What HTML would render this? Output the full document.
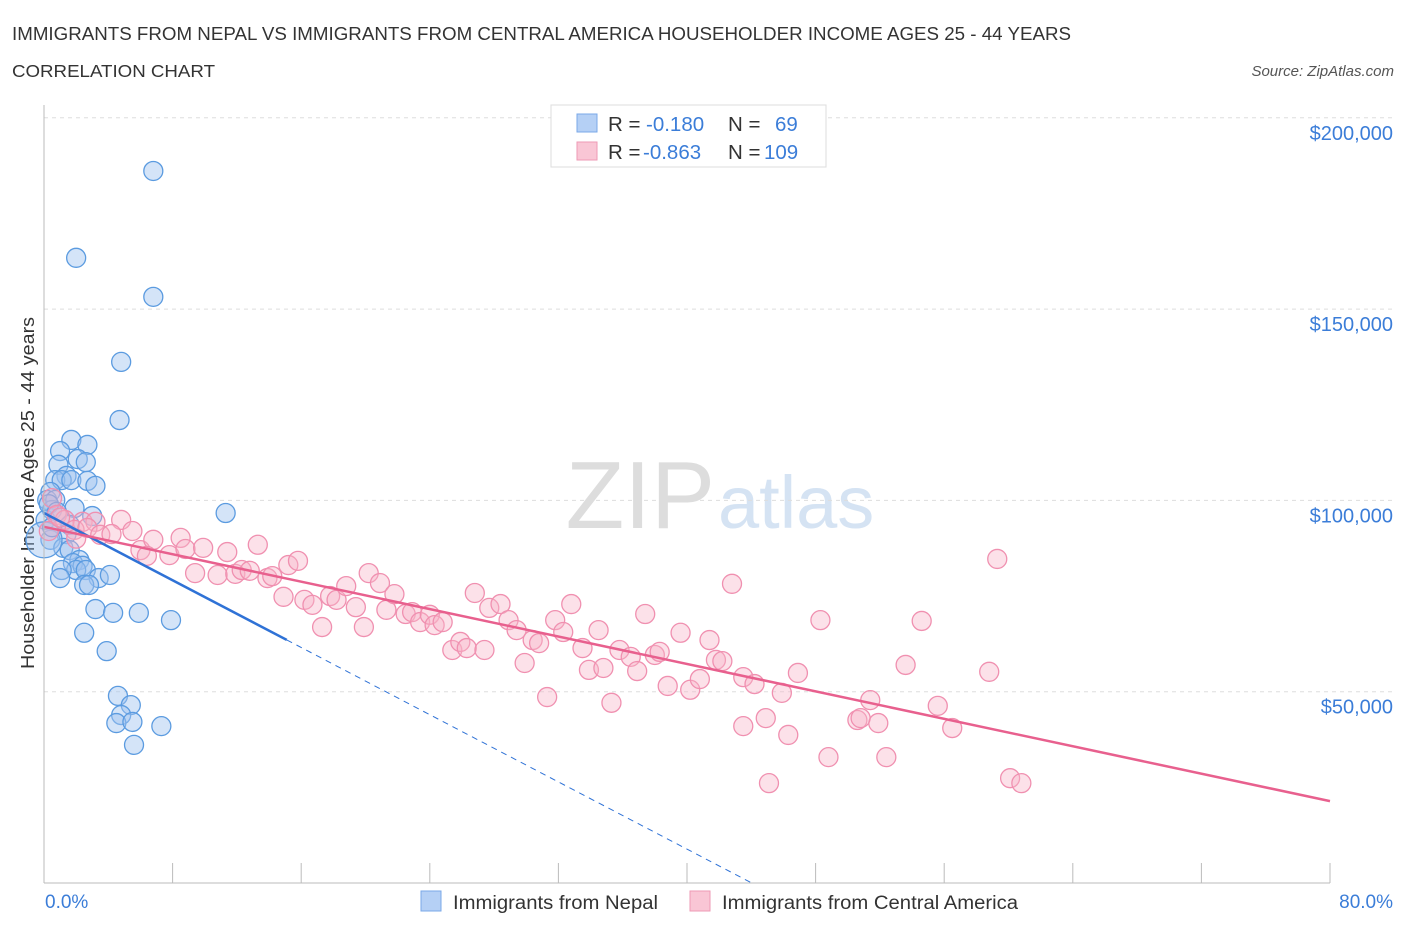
<!DOCTYPE html>
<html><head><meta charset="utf-8"><style>
body{margin:0;background:#fff;font-family:"Liberation Sans",sans-serif}
svg text{font-family:"Liberation Sans",sans-serif}
</style></head><body>
<svg width="1406" height="930" id="c">
<text x="12" y="40" font-size="18" textLength="1059" lengthAdjust="spacingAndGlyphs" fill="#333">IMMIGRANTS FROM NEPAL VS IMMIGRANTS FROM CENTRAL AMERICA HOUSEHOLDER INCOME AGES 25 - 44 YEARS</text>
<text x="12" y="77" font-size="17.5" textLength="203" lengthAdjust="spacingAndGlyphs" fill="#333">CORRELATION CHART</text>
<text x="1394" y="76" font-size="15" fill="#555" font-style="italic" text-anchor="end">Source: ZipAtlas.com</text>
<text transform="translate(34,493) rotate(-90)" font-size="18" textLength="352" lengthAdjust="spacingAndGlyphs" fill="#333" text-anchor="middle">Householder Income Ages 25 - 44 years</text>
<text x="715" y="528" font-size="96" fill="#ddd" text-anchor="end" font-family="Liberation Serif">ZIP</text>
<text x="718" y="528" font-size="74" fill="#d5e3f3">atlas</text>
<g id="grid"></g><g id="pts"></g><g id="lines"></g>
<line x1="44" y1="105" x2="44" y2="883" stroke="#bbb"/>
<line x1="44" y1="883" x2="1330" y2="883" stroke="#bbb"/>
<text x="45" y="908" font-size="19" fill="#3b7dd8">0.0%</text>
<text x="1393" y="908" font-size="19" fill="#3b7dd8" text-anchor="end">80.0%</text>
<g>
<rect x="551" y="105" width="275" height="62" fill="#fff" stroke="#ddd"/>
<rect x="577" y="114" width="20" height="18" fill="#b5d0f5" stroke="#7aa8e8"/>
<rect x="577" y="142" width="20" height="18" fill="#f9c6d5" stroke="#ee9ab5"/>
<text x="608" y="131" font-size="20.5" fill="#333">R = <tspan x="646" fill="#3b7dd8">-0.180</tspan><tspan x="728">N = </tspan><tspan x="775" fill="#3b7dd8">69</tspan></text>
<text x="608" y="159" font-size="20.5" fill="#333">R = <tspan x="643" fill="#3b7dd8">-0.863</tspan><tspan x="728">N = </tspan><tspan x="764" fill="#3b7dd8">109</tspan></text>
</g>
<g>
<rect x="421" y="891" width="20" height="20" fill="#b5d0f5" stroke="#7aa8e8"/>
<text x="453" y="909" font-size="19" textLength="205" lengthAdjust="spacingAndGlyphs" fill="#333">Immigrants from Nepal</text>
<rect x="690" y="891" width="20" height="20" fill="#f9c6d5" stroke="#ee9ab5"/>
<text x="722" y="909" font-size="19" textLength="296" lengthAdjust="spacingAndGlyphs" fill="#333">Immigrants from Central America</text>
</g>
</svg>
<script>
const yTicks=[50000,100000,150000,200000];
const yTickLabels=["$50,000","$100,000","$150,000","$200,000"];
const xTicks=[0,8,16,24,32,40,48,56,64,72,80];
const nepalX=[6.8,2.0,6.8,4.8,4.7,1.7,2.7,1.0,2.1,2.6,0.9,1.4,0.7,1.1,1.7,2.7,3.2,0.4,0.2,0.7,0.5,1.9,11.3,3.0,0.1,1.6,1.4,0.4,1.2,1.6,2.2,1.8,2.4,2.0,1.1,2.6,1.0,3.4,4.1,2.5,2.8,3.2,4.3,5.9,7.9,2.5,3.9,4.6,5.4,4.8,4.5,5.5,7.3,5.6,0.0,0.3,0.8,0.5];
const nepalY=[186.1,163.4,153.2,136.2,121.0,115.8,114.5,112.9,110.8,110.0,109.3,106.4,105.3,105.3,105.3,105.1,103.8,102.2,100.1,100.1,97.5,98.0,96.7,95.9,94.9,93.6,91.2,89.7,87.6,87.0,84.4,83.6,82.9,81.8,81.8,81.8,79.7,79.7,80.5,77.9,77.9,71.6,70.6,70.6,68.7,65.4,60.6,48.9,46.5,43.9,41.8,42.1,41.0,36.1,89.7,99.0,97.0,93.0];
const caX=[0.5,0.8,1.3,2.4,3.2,4.8,1.9,2.7,3.5,4.2,6.0,6.8,8.5,6.4,7.8,8.8,9.9,11.4,13.3,9.4,10.8,11.9,12.3,12.8,13.9,14.2,15.2,15.8,14.9,16.2,16.7,17.3,17.8,18.2,18.8,19.4,19.9,20.2,20.9,21.3,21.8,22.5,22.9,23.4,24.0,24.3,24.8,25.4,25.9,26.3,26.8,27.4,27.7,28.4,28.9,29.4,29.9,30.4,30.8,31.3,31.8,32.3,32.8,33.5,33.9,34.5,34.8,35.3,35.8,36.5,36.9,37.4,38.0,38.3,38.8,39.6,40.2,40.8,41.4,41.8,42.2,42.8,43.5,44.2,43.5,44.9,45.9,46.3,45.1,46.9,48.3,48.8,50.6,51.4,51.9,52.4,53.6,54.6,55.6,56.5,58.8,59.3,60.1,60.8,50.8,0.3,1.0,2.0,5.5];
const caY=[100.6,96.2,94.9,94.4,94.4,94.9,92.3,92.8,91.0,91.2,87.0,89.7,90.2,85.5,85.7,87.3,87.6,86.5,88.4,81.0,80.5,80.8,81.8,81.6,79.7,80.2,83.1,84.2,74.8,74.0,72.7,66.9,75.0,74.0,77.6,72.1,66.9,81.0,78.4,71.4,75.5,70.3,70.8,68.2,70.1,67.4,68.2,60.9,63.0,61.4,75.8,60.9,71.9,72.9,68.7,66.1,57.5,63.5,62.7,48.6,68.7,65.6,72.9,61.4,55.7,66.1,56.2,47.1,60.9,59.1,55.4,70.3,59.6,60.4,51.5,65.4,50.5,53.3,63.5,58.3,58.0,78.2,53.8,52.0,41.0,43.1,49.7,38.7,26.1,54.9,68.7,32.9,42.6,47.8,41.8,32.9,57.0,68.5,46.3,40.5,55.2,84.7,27.4,26.1,43.1,92.0,95.5,90.0,92.0];
const nepalTrend=[96.7,-79.0];
const caTrend=[93.1,21.4];
const NS="http://www.w3.org/2000/svg";
const X=p=>44+p/80*1286;
const Y=v=>883-v/50000*191.3;
function mk(t,a,parent){const e=document.createElementNS(NS,t);for(const k in a)e.setAttribute(k,a[k]);document.getElementById(parent).appendChild(e);return e;}
yTicks.forEach((v,i)=>{
 const l=mk('line',{x1:44,x2:1393,y1:Y(v),y2:Y(v),stroke:'#ddd','stroke-dasharray':'4,4'},'grid');
 
 
 const t=mk('text',{x:1393,y:Y(v)+22,'font-size':20,fill:'#3b7dd8','text-anchor':'end'},'grid');
 t.textContent=yTickLabels[i];
 
 
});
xTicks.forEach(p=>{
 const l=mk('line',{x1:X(p),x2:X(p),y1:863,y2:883,stroke:'#bbb'},'grid');
 
 
});
nepalX.forEach((p,i)=>{
 const r=(p===0)?18:9.5;
 const c=mk('circle',{cx:X(p),cy:Y(nepalY[i]*1000),r:r,fill:'rgba(160,196,240,0.45)',stroke:'#5b9be0','stroke-width':1.3},'pts');
 
 
});
caX.forEach((p,i)=>{
 const c=mk('circle',{cx:X(p),cy:Y(caY[i]*1000),r:9.5,fill:'rgba(248,180,200,0.4)',stroke:'#f090b0','stroke-width':1.3},'pts');
 
 
});
const nv=p=>(nepalTrend[0]+(nepalTrend[1]-nepalTrend[0])*p/80)*1000;
const zeroP=nepalTrend[0]/(nepalTrend[0]-nepalTrend[1])*80;
let l1=mk('line',{x1:X(0),y1:Y(nv(0)),x2:X(15.1),y2:Y(nv(15.1)),stroke:'#2f72d6','stroke-width':2.5},'lines');


let l2=mk('line',{x1:X(15.1),y1:Y(nv(15.1)),x2:X(zeroP),y2:Y(0),stroke:'#2f72d6','stroke-width':1,'stroke-dasharray':'6,5'},'lines');


let l3=mk('line',{x1:X(0),y1:Y(caTrend[0]*1000),x2:X(80),y2:Y(caTrend[1]*1000),stroke:'#e8608e','stroke-width':2.5},'lines');


</script>
</body></html>
